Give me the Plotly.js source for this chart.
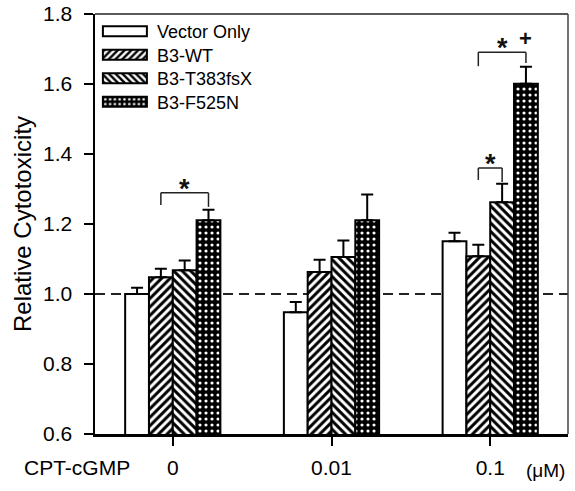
<!DOCTYPE html>
<html><head><meta charset="utf-8">
<script src="https://cdn.plot.ly/plotly-3.0.1.min.js"></script>
<style>body{margin:0;background:#fff}#chart{width:575px;height:491px}</style>
</head><body><div id="chart"></div>
<script>
const groups = ['0', '0.01', '0.1'];
const seriesNames = ['Vector Only', 'B3-WT', 'B3-T383fsX', 'B3-F525N'];
const vectorOnly = [1.000, 0.948, 1.151];
const vectorOnlyErr = [0.018, 0.029, 0.024];
const b3WT = [1.048, 1.063, 1.108];
const b3WTErr = [0.024, 0.035, 0.033];
const b3T383 = [1.068, 1.106, 1.262];
const b3T383Err = [0.028, 0.047, 0.053];
const b3F525N = [1.211, 1.211, 1.601];
const b3F525NErr = [0.030, 0.073, 0.048];
const yTicks = [0.6, 0.8, 1.0, 1.2, 1.4, 1.6, 1.8];
const baseline = 1.0;
// significance brackets: group index, series index from/to, top, left/right leg ends
const brackets = [
  {g: 0, from: 1, to: 3, top: 1.289, legL: 1.254, legR: 1.249, label: '*'},
  {g: 2, from: 1, to: 2, top: 1.360, legL: 1.326, legR: 1.320, label: '*'},
  {g: 2, from: 1, to: 3, top: 1.691, legL: 1.651, legR: 1.660, label: '*'}
];
const plusMark = {g: 2, s: 3, y: 1.731, label: '+'};

const values = [vectorOnly, b3WT, b3T383, b3F525N];
const errs = [vectorOnlyErr, b3WTErr, b3T383Err, b3F525NErr];
const patterns = [
  {shape: '', bgcolor: '#fff', fgcolor: '#000'},
  {shape: '/', bgcolor: '#fff', fgcolor: '#000', size: 6, solidity: 0.5, fillmode: 'replace'},
  {shape: '\\', bgcolor: '#fff', fgcolor: '#000', size: 6, solidity: 0.5, fillmode: 'replace'},
  {shape: '.', bgcolor: '#000', fgcolor: '#fff', size: 6, solidity: 0.22, fillmode: 'replace'}
];
const bargap = 0.4;
const barW = (1 - bargap) / seriesNames.length;
const off = i => (i - (seriesNames.length - 1) / 2) * barW;

const traces = seriesNames.map((name, i) => ({
  type: 'bar', name: name, x: groups, y: values[i],
  marker: {color: i === 3 ? '#000' : '#fff',
           line: {color: '#000', width: 2},
           pattern: patterns[i]},
  error_y: {type: 'data', symmetric: false, array: errs[i], arrayminus: errs[i].map(() => 0),
            color: '#000', thickness: 2, width: 6},
  hoverinfo: 'skip'
}));

const shapes = [
  {type: 'line', xref: 'paper', yref: 'y', x0: 0, x1: 1, y0: baseline, y1: baseline,
   line: {color: '#222', width: 2, dash: '10px,6px'}, layer: 'below'},
  {type: 'line', xref: 'paper', yref: 'paper', x0: 0, x1: 1, y0: 1, y1: 1, line: {color: '#222', width: 1.5}},
  {type: 'line', xref: 'paper', yref: 'paper', x0: 1, x1: 1, y0: 0, y1: 1, line: {color: '#444', width: 1.5}}
];
const annotations = [];
brackets.forEach(b => {
  const xa = b.g + off(b.from), xb = b.g + off(b.to);
  const ln = {color: '#222', width: 1.5};
  shapes.push({type: 'line', xref: 'x', yref: 'y', x0: xa, x1: xb, y0: b.top, y1: b.top, line: ln});
  shapes.push({type: 'line', xref: 'x', yref: 'y', x0: xa, x1: xa, y0: b.top, y1: b.legL, line: ln});
  shapes.push({type: 'line', xref: 'x', yref: 'y', x0: xb, x1: xb, y0: b.top, y1: b.legR, line: ln});
  annotations.push({xref: 'x', yref: 'y', x: (xa + xb) / 2, y: b.top, text: '<b>' + b.label + '</b>',
    showarrow: false, xanchor: 'center', yanchor: 'bottom', yshift: -13, font: {size: 27, color: '#111'}});
});
annotations.push({xref: 'x', yref: 'y', x: plusMark.g + off(plusMark.s), y: plusMark.y, text: '<b>' + plusMark.label + '</b>',
  showarrow: false, xanchor: 'center', yanchor: 'middle', font: {size: 22, color: '#111'}});
annotations.push({xref: 'paper', yref: 'paper', x: -0.039, y: -0.0786, text: 'CPT-cGMP', showarrow: false,
  xanchor: 'center', yanchor: 'middle', font: {size: 21, color: '#000'}});
annotations.push({xref: 'paper', yref: 'paper', x: 0.998, y: -0.088, text: '(μM)', showarrow: false,
  xanchor: 'right', yanchor: 'middle', font: {size: 19, color: '#000'}});

const layout = {
  width: 575, height: 491,
  margin: {l: 95, r: 7, t: 14, b: 57},
  paper_bgcolor: '#fff', plot_bgcolor: '#fff',
  font: {family: 'Liberation Sans, Arial, sans-serif', color: '#000'},
  barmode: 'group', bargap: bargap, bargroupgap: 0,
  showlegend: true,
  legend: {x: 0.004, y: 1.0, xanchor: 'left', yanchor: 'top', font: {size: 18},
           itemwidth: 50, bgcolor: 'rgba(0,0,0,0)', tracegroupgap: 0},
  xaxis: {type: 'category', range: [-0.49, 2.49], showline: true, linewidth: 2.5, linecolor: '#000',
          ticks: 'outside', ticklen: 9, tickwidth: 2, tickcolor: '#000', tickfont: {size: 21},
          showgrid: false, zeroline: false, ticklabelstandoff: 4, fixedrange: true},
  yaxis: {range: [0.6, 1.8], tickvals: yTicks, tickformat: '.1f', showline: true, linewidth: 2.5,
          linecolor: '#000', ticks: 'outside', ticklen: 9, tickwidth: 2, tickcolor: '#000',
          tickfont: {size: 21}, showgrid: false, zeroline: false, ticklabelstandoff: 7,
          title: {text: 'Relative Cytotoxicity', font: {size: 24}, standoff: 5}, fixedrange: true},
  shapes: shapes, annotations: annotations
};

Plotly.newPlot('chart', traces, layout, {displayModeBar: false, staticPlot: true}).then(() => {
  document.querySelectorAll('#chart .legend .legendpoints path').forEach(p => {
    p.setAttribute('d', 'M20,5H-24V-5H20Z');
  });
  // tighten legend row spacing to match reference
  const items = Array.from(document.querySelectorAll('#chart .legend .traces'));
  if (items.length) {
    const m0 = /translate\(([-\d.]+)[ ,]+([-\d.]+)\)/.exec(items[0].getAttribute('transform') || '');
    if (m0) {
      const x0 = parseFloat(m0[1]), y0 = parseFloat(m0[2]) - 1;
      items.forEach((g, i) => g.setAttribute('transform', 'translate(' + x0 + ',' + (y0 + i * 23.5) + ')'));
    }
  }
});
</script>
</body></html>
